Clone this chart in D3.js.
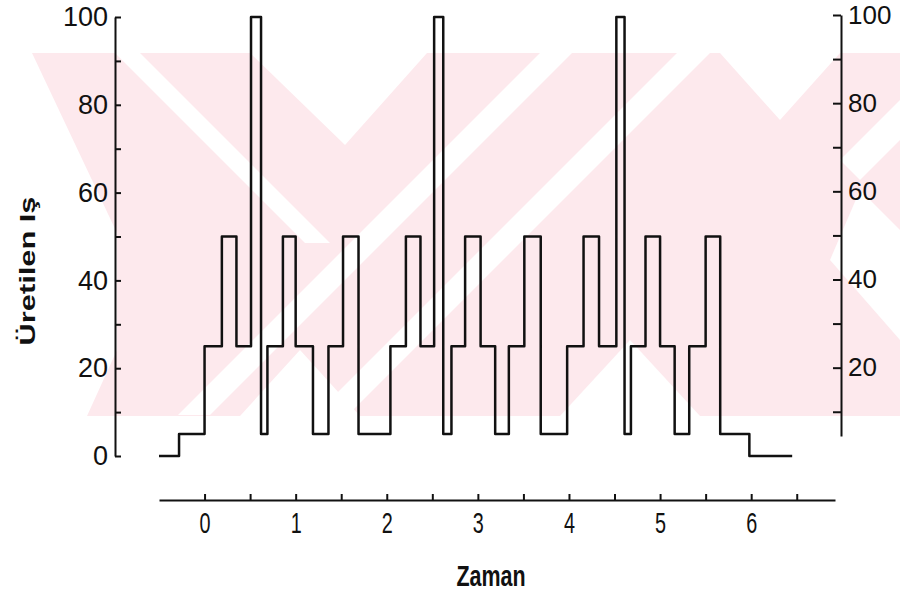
<!DOCTYPE html>
<html>
<head>
<meta charset="utf-8">
<title>Üretilen İş</title>
<style>
body { margin: 0; background: #fff; }
svg { display: block; }
.axis text { font-family: "Liberation Sans", Arial, sans-serif; fill: #111; }
.axis path, .axis line { stroke: #111; stroke-width: 2px; }
.title { font-family: "Liberation Sans", Arial, sans-serif; font-weight: bold; fill: #111; }
</style>
</head>
<body>
<script src="https://cdn.jsdelivr.net/npm/d3@7"></script>
<script>

// step data: time at which each level starts, and the level
var times  = [-0.5, -0.28, 0.0, 0.19, 0.35, 0.51, 0.62, 0.69, 0.86, 1.0, 1.19, 1.36, 1.52, 1.69, 2.04, 2.21, 2.37, 2.52,
              2.62, 2.71, 2.86, 3.03, 3.19, 3.34, 3.51, 3.69, 3.98, 4.16, 4.33, 4.52, 4.61, 4.68, 4.84, 5.0, 5.16, 5.32, 5.5, 5.66, 5.98, 6.45];
var levels = [0, 5, 25, 50, 25, 100, 5, 25, 50, 25, 5, 25, 50, 5, 25, 50, 25, 100,
              5, 25, 50, 25, 5, 25, 50, 5, 25, 50, 25, 100, 5, 25, 50, 25, 5, 25, 50, 5, 0, 0];

var xTicks = [0, 0.5, 1, 1.5, 2, 2.5, 3, 3.5, 4, 4.5, 5, 5.5, 6, 6.5];
var yTicks = [0, 10, 20, 30, 40, 50, 60, 70, 80, 90, 100];
var yLabels = [0, 20, 40, 60, 80, 100];
var yTicksRight = [10, 20, 30, 40, 50, 60, 70, 80, 90, 100];

var width = 900, height = 595;

var svg = d3.select("body").append("svg")
    .attr("width", width)
    .attr("height", height);

// faint watermark behind the plot
var pink = "#fde9ed";
var wm = svg.append("g").attr("class", "watermark");
wm.append("clipPath").attr("id", "wmclip")
    .append("rect").attr("x", 28).attr("y", 53).attr("width", 872).attr("height", 363);
var wmg = wm.append("g").attr("clip-path", "url(#wmclip)");
wmg.append("rect").attr("x", 0).attr("y", 0).attr("width", width).attr("height", height).attr("fill", pink);
var stripes = [
    [[115, 53], [140, 53], [330, 243], [305, 243]],
    [[540, 53], [572, 53], [210, 415], [178, 415]],
    [[677, 53], [710, 53], [348, 415], [315, 415]],
    [[840, 160], [900, 100], [900, 140], [860, 180]]
];
var wedges = [
    [[0, 53], [32, 53], [117, 233], [117, 350], [87, 416], [0, 416]],
    [[250, 53], [427, 53], [345, 145]],
    [[720, 53], [840, 53], [780, 120]],
    [[240, 416], [360, 416], [300, 350]],
    [[560, 416], [700, 416], [630, 340]],
    [[860, 190], [900, 230], [900, 340], [830, 260]]
];
stripes.concat(wedges).forEach(function(p) {
    wmg.append("polygon").attr("points", p.join(" ")).attr("fill", "#fff");
});

// scales
var x = d3.scaleLinear().domain([-0.5, 6.92]).range([159, 835]);
var y = d3.scaleLinear().domain([0, 100]).range([456, 17]);
var yR = d3.scaleLinear().domain([4.5, 100]).range([436, 15]);

// x axis
var xAxis = svg.append("g")
    .attr("class", "axis axis--x")
    .attr("transform", "translate(0,500)")
    .call(d3.axisBottom(x).tickValues(xTicks).tickSizeInner(-6).tickSizeOuter(0).tickPadding(12)
        .tickFormat(function(t) { return t % 1 === 0 ? t : ""; }));
xAxis.selectAll("text")
    .style("font-size", "30px")
    .attr("transform", "scale(0.66,1)");

// left axis
var yAxis = svg.append("g")
    .attr("class", "axis axis--y")
    .attr("transform", "translate(115,0)")
    .call(d3.axisLeft(y).tickValues(yTicks).tickSizeInner(-6).tickSizeOuter(0).tickPadding(7)
        .tickFormat(function(t) { return yLabels.indexOf(t) >= 0 ? t : ""; }));
yAxis.selectAll("text").style("font-size", "27px");

// right axis
var yAxisR = svg.append("g")
    .attr("class", "axis axis--y2")
    .attr("transform", "translate(841,0)")
    .call(d3.axisRight(yR).tickValues(yTicksRight).tickSizeInner(-8).tickSizeOuter(0).tickPadding(7)
        .tickFormat(function(t) { return yLabels.indexOf(t) >= 0 ? t : ""; }));
yAxisR.selectAll("text").style("font-size", "26px");

// the step line
var pts = times.map(function(t, i) { return [t, levels[i]]; });
var line = d3.line()
    .x(function(d) { return x(d[0]); })
    .y(function(d) { return y(d[1]); })
    .curve(d3.curveStepAfter);

svg.append("path")
    .datum(pts)
    .attr("fill", "none")
    .attr("stroke", "#111")
    .attr("stroke-width", 2.5)
    .attr("stroke-linejoin", "round")
    .attr("d", line);

// titles
svg.append("text")
    .attr("class", "title")
    .attr("transform", "translate(35,271) rotate(-90) scale(1.4,1)")
    .attr("text-anchor", "middle")
    .style("font-size", "22px")
    .text("Üretilen Iş");

svg.append("text")
    .attr("class", "title")
    .attr("transform", "translate(491,586) scale(0.74,1)")
    .attr("text-anchor", "middle")
    .style("font-size", "29px")
    .text("Zaman");

</script>
</body>
</html>
